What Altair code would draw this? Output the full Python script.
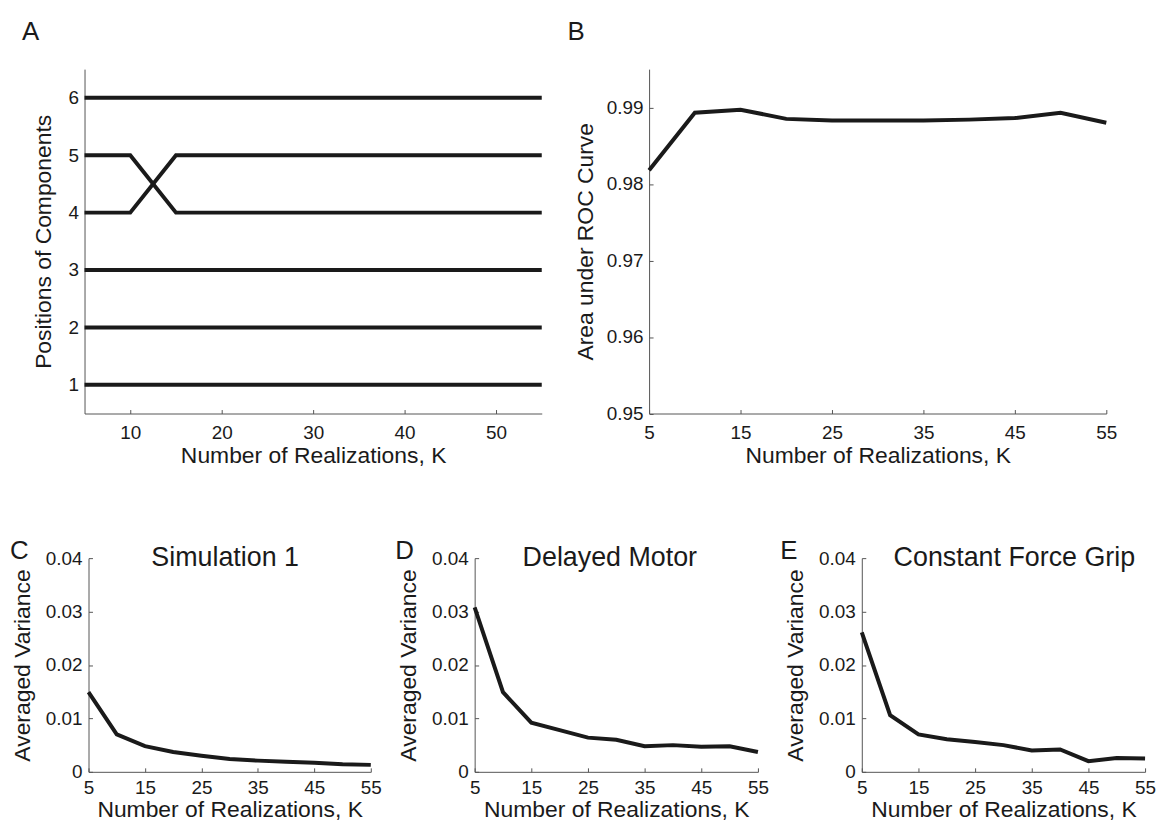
import altair as alt
import pandas as pd

FONT = "Liberation Sans"
INK = "#1a1a1a"
AXC = "#555555"

K = [5, 10, 15, 20, 25, 30, 35, 40, 45, 50, 55]

# Panel A: positions of components
pos_c1 = [1, 1, 1, 1, 1, 1, 1, 1, 1, 1, 1]
pos_c2 = [2, 2, 2, 2, 2, 2, 2, 2, 2, 2, 2]
pos_c3 = [3, 3, 3, 3, 3, 3, 3, 3, 3, 3, 3]
pos_c4 = [4, 4, 5, 5, 5, 5, 5, 5, 5, 5, 5]
pos_c5 = [5, 5, 4, 4, 4, 4, 4, 4, 4, 4, 4]
pos_c6 = [6, 6, 6, 6, 6, 6, 6, 6, 6, 6, 6]

# Panel B: area under ROC curve
auc = [0.9818, 0.9893, 0.9897, 0.9885, 0.9883, 0.9883, 0.9883, 0.9884, 0.9886, 0.9893, 0.9880]

# Panels C-E: averaged variance
var_sim1 = [0.0149, 0.0070, 0.0048, 0.0037, 0.0030, 0.0024, 0.0021, 0.0019, 0.0017, 0.0014, 0.0013]
var_delayed = [0.0308, 0.0149, 0.0092, 0.0078, 0.0064, 0.0060, 0.0048, 0.0050, 0.0047, 0.0048, 0.0037]
var_grip = [0.0261, 0.0106, 0.0070, 0.0061, 0.0056, 0.0050, 0.0040, 0.0042, 0.0020, 0.0026, 0.0025]

xticks_A = [10, 20, 30, 40, 50]
xticks_B = [5, 15, 25, 35, 45, 55]
yticks_A = [1, 2, 3, 4, 5, 6]
yticks_B = [0.95, 0.96, 0.97, 0.98, 0.99]
yticks_V = [0, 0.01, 0.02, 0.03, 0.04]

XTITLE = "Number of Realizations, K"
TICK = 4
LW = 4


def axis(values, title, label_pad, title_pad, label_size, title_size,
         fmt=None, label_expr=None, grid_dash=None, offset=None):
    kw = dict(
        values=values, title=title,
        grid=True, gridDash=grid_dash, gridColor=AXC, gridWidth=1,
        ticks=False, tickSize=0,
        domainColor=AXC, domainWidth=1,
        labelFlush=False, labelOverlap=False,
        labelPadding=label_pad, titlePadding=title_pad,
        labelFont=FONT, labelFontSize=label_size, labelColor=INK,
        titleFont=FONT, titleFontSize=title_size, titleFontWeight="normal",
        titleColor=INK,
    )
    if fmt is not None:
        kw["format"] = fmt
    if label_expr is not None:
        kw["labelExpr"] = label_expr
    if offset is not None:
        kw["offset"] = offset
    return alt.Axis(**kw)


def xdash(h):
    # inward tick at the bottom edge (grid lines run top -> bottom)
    return [0, h - TICK, TICK, 5000]


def ydash():
    # inward tick at the left edge (grid lines run left -> right)
    return [TICK, 5000]


def text_layer(txt, x, y, size, align="left"):
    return alt.Chart(alt.Data(values=[{"t": txt}])).mark_text(
        align=align, baseline="alphabetic", font=FONT, fontSize=size, color=INK
    ).encode(text="t:N", x=alt.value(x), y=alt.value(y))


def anchor(x, y):
    return alt.Chart(alt.Data(values=[{"a": 1}])).mark_rect(color="white").encode(
        x=alt.value(x), x2=alt.value(x + 1), y=alt.value(y), y2=alt.value(y + 1)
    )


TOP_H = 346.5
BOT_H = 215
A_SHIFT = 4  # panel A's axes start 4px left of the bottom row's first panel

# ---- Panel A ----
rows = []
for name, vals in [("c1", pos_c1), ("c2", pos_c2), ("c3", pos_c3),
                   ("c4", pos_c4), ("c5", pos_c5), ("c6", pos_c6)]:
    for k, v in zip(K, vals):
        rows.append({"K": k, "comp": name, "pos": v})
dfA = pd.DataFrame(rows)

A_W = 456
linesA = alt.Chart(dfA).mark_line(color=INK, strokeWidth=LW).encode(
    x=alt.X("K:Q", scale=alt.Scale(domain=[5, 55], nice=False, zero=False,
                                   range=[-A_SHIFT, A_W]),
            axis=axis(xticks_A, XTITLE, 10.5, 2, 19, 23, fmt="d",
                      grid_dash=xdash(TOP_H))),
    y=alt.Y("pos:Q", scale=alt.Scale(domain=[0.5, 6.5], nice=False, zero=False),
            axis=axis(yticks_A, "Positions of Components", 6, 13, 19, 23, fmt="d",
                      grid_dash=ydash(), offset=A_SHIFT)),
    detail="comp:N",
)
panelA = alt.layer(
    linesA, text_layer("A", -67, -29.5, 26),
    anchor(-81, -58.5), anchor(-81, 432.5),
).properties(width=A_W, height=TOP_H)

# ---- Panel B ----
dfB = pd.DataFrame({"K": K, "auc": auc})
lineB = alt.Chart(dfB).mark_line(color=INK, strokeWidth=LW).encode(
    x=alt.X("K:Q", scale=alt.Scale(domain=[5, 55], nice=False, zero=False),
            axis=axis(xticks_B, XTITLE, 10.5, 2, 19, 23, fmt="d",
                      grid_dash=xdash(TOP_H))),
    y=alt.Y("auc:Q", scale=alt.Scale(domain=[0.95, 0.995], nice=False, zero=False),
            axis=axis(yticks_B, "Area under ROC Curve", 6, 9, 19, 23, fmt=".2f",
                      grid_dash=ydash())),
)
panelB = alt.layer(lineB, text_layer("B", -82, -29.5, 26)).properties(
    width=460, height=TOP_H)


# ---- Panels C-E ----
VAR_LABEL = "datum.value == 0 ? '0' : format(datum.value, '.2f')"


def var_panel(vals, letter, title, w, letter_x, title_x, extra=None):
    df = pd.DataFrame({"K": K, "v": vals})
    line = alt.Chart(df).mark_line(color=INK, strokeWidth=LW).encode(
        x=alt.X("K:Q", scale=alt.Scale(domain=[5, 55], nice=False, zero=False),
                axis=axis(xticks_B, XTITLE, 6.5, 1.5, 19, 23, fmt="d",
                          grid_dash=xdash(BOT_H))),
        y=alt.Y("v:Q", scale=alt.Scale(domain=[0, 0.04], nice=False, zero=False),
                axis=axis(yticks_V, "Averaged Variance", 6.5, 11, 19, 23,
                          label_expr=VAR_LABEL, grid_dash=ydash())),
    )
    layers = [line,
              text_layer(letter, letter_x, 1, 26),
              text_layer(title, title_x, 7.5, 27, align="center")]
    if extra is not None:
        layers.append(extra)
    return alt.layer(*layers).properties(width=w, height=BOT_H)


panelC = var_panel(var_sim1, "C", "Simulation 1", 284, -79, 137.5,
                   extra=anchor(-81, -57.6))
panelD = var_panel(var_delayed, "D", "Delayed Motor", 285, -80, 136)
panelE = var_panel(var_grip, "E", "Constant Force Grip", 285, -82, 153.5)

top = alt.hconcat(panelA, panelB, spacing=108, bounds="flush")
bottom = alt.hconcat(panelC, panelD, panelE, spacing=104.5, bounds="flush")

chart = alt.vconcat(top, bottom, spacing=0).properties(
    padding=0, background="white"
).configure_view(stroke=None)

chart.save("out.html", embed_options={"renderer": "svg", "actions": False})
